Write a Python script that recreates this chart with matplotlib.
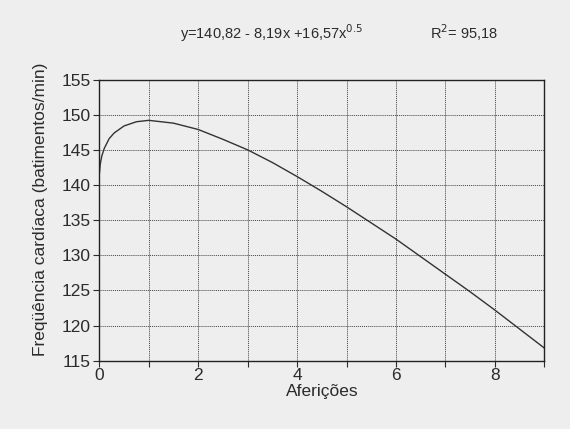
import matplotlib.pyplot as plt

plt.rcParams["font.family"] = ["Liberation Sans", "DejaVu Sans"]

afericoes = [0.003, 0.02, 0.05, 0.1, 0.2, 0.3, 0.5, 0.75, 1.0, 1.5, 2.0, 2.5, 3.0,
             3.5, 4.0, 4.5, 5.0, 5.5, 6.0, 6.5, 7.0, 7.5, 8.0, 8.5, 9.0]
freq = [141.7, 143.0, 144.1, 145.2, 146.6, 147.4, 148.4, 149.0, 149.2, 148.8, 147.9,
        146.5, 145.0, 143.2, 141.2, 139.1, 136.9, 134.6, 132.3, 129.8, 127.3,
        124.8, 122.2, 119.5, 116.8]

x_ticks = [0, 2, 4, 6, 8]
y_ticks = [115, 120, 125, 130, 135, 140, 145, 150, 155]

BG = "#eeeeee"
INK = "#2b2b2b"

fig = plt.figure(figsize=(5.7, 4.29), dpi=100, facecolor=BG)
ax = fig.add_axes([0.1742, 0.1592, 0.7808, 0.6553], facecolor=BG)

ax.plot(afericoes, freq, color="#333333", linewidth=1.0)

ax.set_xlim(0, 9)
ax.set_ylim(115, 155)
ax.set_xticks(x_ticks)
ax.set_xticks(range(0, 10), minor=True)
ax.set_yticks(y_ticks)

ax.grid(True, which="both", color="#444444", linestyle=(0, (1, 1)), linewidth=0.7)
for s in ax.spines.values():
    s.set_color("#222222")
    s.set_linewidth(1.0)

ax.tick_params(axis="both", which="major", labelsize=12.5, colors=INK, length=4,
               width=0.8, labelcolor=INK)
ax.tick_params(axis="x", which="minor", length=4, width=0.8, color=INK)
ax.tick_params(axis="y", pad=2)
ax.tick_params(axis="x", pad=1)

ax.set_xlabel("Aferições", fontsize=12.5, color=INK, labelpad=1)
ax.set_ylabel("Freqüência cardíaca (batimentos/min)", fontsize=12.5, color=INK)
ax.yaxis.set_label_coords(-0.115, 0.54)

fig.text(0.316, 0.923, r"y=140,82 - 8,19x +16,57x$^{0.5}$", fontsize=10.5, color=INK,
         va="center")
fig.text(0.755, 0.923, r"R$^{2}$= 95,18", fontsize=10.5, color=INK, va="center")

fig.savefig("out.png", dpi=100, facecolor=BG)
